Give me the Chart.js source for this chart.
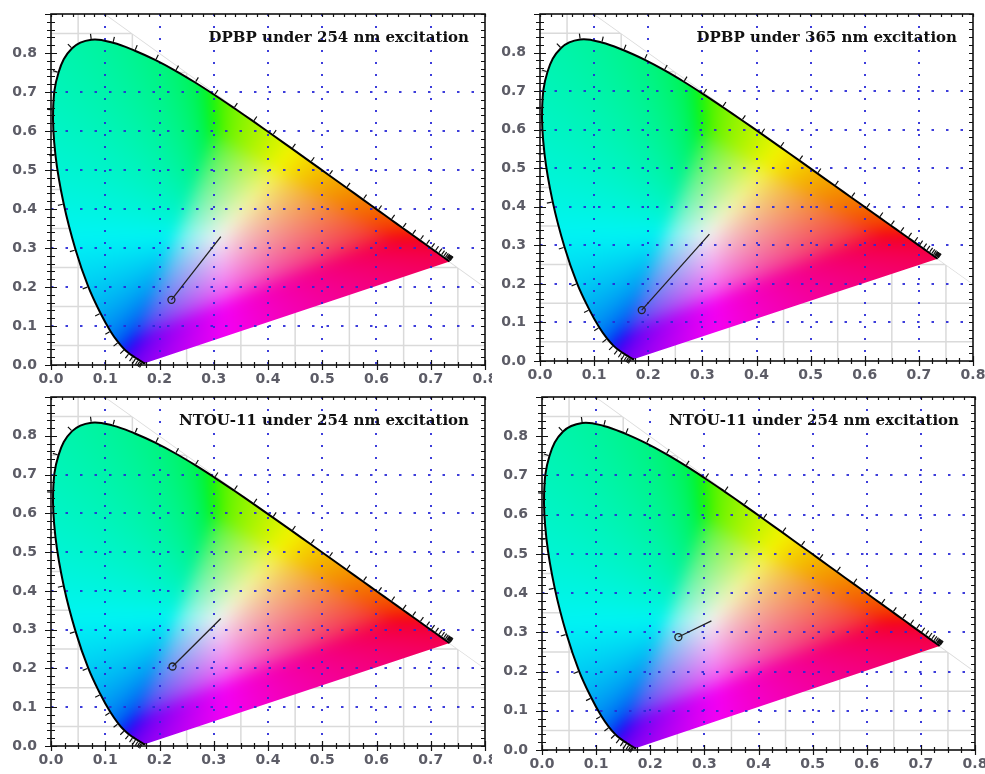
<!DOCTYPE html>
<html>
<head>
<meta charset="utf-8">
<title>CIE 1931 chromaticity diagrams</title>
<script src="https://cdn.jsdelivr.net/npm/chart.js@4.4.0/dist/chart.umd.min.js"></script>
<style>
  html, body { margin: 0; padding: 0; background: #fff; }
  #page { position: relative; width: 985px; height: 774px; overflow: hidden; }
  .panel { position: absolute; }
</style>
</head>
<body>
<div id="page"></div>
<script>
// CIE 1931 2 degree spectral locus, 380-700 nm every 5 nm
const locusNm = [380, 385, 390, 395, 400, 405, 410, 415, 420, 425, 430, 435, 440, 445, 450, 455,
    460, 465, 470, 475, 480, 485, 490, 495, 500, 505, 510, 515, 520, 525, 530, 535, 540, 545,
    550, 555, 560, 565, 570, 575, 580, 585, 590, 595, 600, 605, 610, 615, 620, 625, 630, 635,
    640, 645, 650, 655, 660, 665, 670, 675, 680, 685, 690, 695, 700];
const locusX = [0.1741, 0.1740, 0.1738, 0.1736, 0.1733, 0.1730, 0.1726, 0.1721, 0.1714, 0.1703,
    0.1689, 0.1669, 0.1644, 0.1611, 0.1566, 0.1510, 0.1440, 0.1355, 0.1241, 0.1096, 0.0913,
    0.0687, 0.0454, 0.0235, 0.0082, 0.0039, 0.0139, 0.0389, 0.0743, 0.1142, 0.1547, 0.1929,
    0.2296, 0.2658, 0.3016, 0.3373, 0.3731, 0.4087, 0.4441, 0.4788, 0.5125, 0.5448, 0.5752,
    0.6029, 0.6270, 0.6482, 0.6658, 0.6801, 0.6915, 0.7006, 0.7079, 0.7140, 0.7190, 0.7230,
    0.7260, 0.7283, 0.7300, 0.7311, 0.7320, 0.7327, 0.7334, 0.7340, 0.7344, 0.7346, 0.7347];
const locusY = [0.0050, 0.0050, 0.0049, 0.0049, 0.0048, 0.0048, 0.0048, 0.0048, 0.0051, 0.0058,
    0.0069, 0.0086, 0.0109, 0.0138, 0.0177, 0.0227, 0.0297, 0.0399, 0.0578, 0.0868, 0.1327,
    0.2007, 0.2950, 0.4127, 0.5384, 0.6548, 0.7502, 0.8120, 0.8338, 0.8262, 0.8059, 0.7816,
    0.7543, 0.7243, 0.6923, 0.6589, 0.6245, 0.5896, 0.5547, 0.5202, 0.4866, 0.4544, 0.4242,
    0.3965, 0.3725, 0.3514, 0.3340, 0.3197, 0.3083, 0.2993, 0.2920, 0.2859, 0.2809, 0.2770,
    0.2740, 0.2717, 0.2700, 0.2689, 0.2680, 0.2673, 0.2666, 0.2660, 0.2656, 0.2654, 0.2653];

// one entry per panel
const panelTitles = [
    'DPBP under 254 nm excitation',
    'DPBP under 365 nm excitation',
    'NTOU-11 under 254 nm excitation',
    'NTOU-11 under 254 nm excitation'
];
const sampleX = [0.222, 0.188, 0.224, 0.252];
const sampleY = [0.167, 0.132, 0.205, 0.288];
const whiteX = 0.313;
const whiteY = 0.329;

const xTickLabels = ['0.0', '0.1', '0.2', '0.3', '0.4', '0.5', '0.6', '0.7', '0.8'];
const yTickLabels = ['0.0', '0.1', '0.2', '0.3', '0.4', '0.5', '0.6', '0.7', '0.8'];

// where each panel sits on the page
const panelBoxes = [
    { left: 0,   top: 0,   width: 492, height: 392, yAxisW: 51, xAxisH: 27, padTop: 14, padRight: 7 },
    { left: 490, top: 0,   width: 495, height: 390, yAxisW: 50, xAxisH: 29, padTop: 14, padRight: 12 },
    { left: 0,   top: 384, width: 492, height: 390, yAxisW: 51, xAxisH: 28, padTop: 13, padRight: 7 },
    { left: 490, top: 384, width: 495, height: 390, yAxisW: 52, xAxisH: 24, padTop: 13, padRight: 10 }
];

const gridBlue = 'rgba(40, 40, 215, 0.9)';
const labelGrey = '#5c5c66';

function gammaEncode(c) {
    return c <= 0.0031308 ? 12.92 * c : 1.055 * Math.pow(c, 1 / 2.4) - 0.055;
}

// xy -> XYZ (Y = 1) -> linear sRGB, out-of-gamut colours desaturated toward white
function chromaColor(cx, cy) {
    const yy = Math.max(cy, 0.0005);
    const X = cx / yy, Y = 1, Z = (1 - cx - yy) / yy;
    let r = 3.2406 * X - 1.5372 * Y - 0.4986 * Z;
    let g = -0.9689 * X + 1.8758 * Y + 0.0415 * Z;
    let b = 0.0557 * X - 0.2040 * Y + 1.0570 * Z;
    const lo = Math.min(r, g, b);
    if (lo < 0) { r -= lo; g -= lo; b -= lo; }
    const hi = Math.max(r, g, b) || 1;
    return [r / hi, g / hi, b / hi].map(c => Math.round(244 * gammaEncode(c)));
}

// closed horseshoe: the library's own (curved) locus path, closed by the purple line
function locusPath(chart, ctx) {
    const meta = chart.getDatasetMeta(0);
    meta.dataset.updateControlPoints(chart.chartArea, meta.iAxis);
    ctx.beginPath();
    meta.dataset.path(ctx);
    ctx.closePath();
}

function buildGamutImage(chart) {
    const { chartArea: a, scales: { x, y } } = chart;
    const m = 20;
    const w = Math.ceil(a.width) + 2 * m, h = Math.ceil(a.height) + 2 * m;
    const raw = document.createElement('canvas');
    raw.width = w;
    raw.height = h;
    const rctx = raw.getContext('2d');
    const img = rctx.createImageData(w, h);
    for (let j = 0; j < h; j++) {
        const vy = y.getValueForPixel(a.top - m + j + 0.5);
        for (let i = 0; i < w; i++) {
            const vx = x.getValueForPixel(a.left - m + i + 0.5);
            const c = chromaColor(vx, vy);
            const k = (j * w + i) * 4;
            img.data[k] = c[0];
            img.data[k + 1] = c[1];
            img.data[k + 2] = c[2];
            img.data[k + 3] = 255;
        }
    }
    rctx.putImageData(img, 0, 0);
    // soften the seams at the sRGB gamut edges
    const soft = document.createElement('canvas');
    soft.width = w;
    soft.height = h;
    const sctx = soft.getContext('2d');
    sctx.filter = 'blur(7px)';
    sctx.drawImage(raw, 0, 0);
    return { canvas: soft, margin: m };
}

// faint background grid + coloured gamut, drawn under the dotted grid
const gamutPlugin = {
    id: 'gamut',
    beforeDraw(chart) {
        const { ctx, chartArea: a, scales: { x, y } } = chart;

        ctx.save();
        ctx.beginPath();
        ctx.rect(a.left, a.top, a.width, a.height);
        ctx.clip();
        ctx.beginPath();
        ctx.moveTo(x.getPixelForValue(0), y.getPixelForValue(0));
        ctx.lineTo(x.getPixelForValue(1), y.getPixelForValue(0));
        ctx.lineTo(x.getPixelForValue(0), y.getPixelForValue(1));
        ctx.closePath();
        ctx.clip();
        ctx.strokeStyle = '#dadada';
        ctx.lineWidth = 1.5;
        ctx.beginPath();
        for (let k = 1; k < 20; k += 2) {
            const v = k * 0.05;
            ctx.moveTo(x.getPixelForValue(v), a.top);
            ctx.lineTo(x.getPixelForValue(v), a.bottom);
            ctx.moveTo(a.left, y.getPixelForValue(v));
            ctx.lineTo(a.right, y.getPixelForValue(v));
        }
        ctx.moveTo(x.getPixelForValue(0), y.getPixelForValue(1));
        ctx.lineTo(x.getPixelForValue(1), y.getPixelForValue(0));
        ctx.stroke();
        ctx.restore();

        if (!chart.$gamut) chart.$gamut = buildGamutImage(chart);
        ctx.save();
        locusPath(chart, ctx);
        ctx.clip();
        ctx.drawImage(chart.$gamut.canvas, a.left - chart.$gamut.margin, a.top - chart.$gamut.margin);
        ctx.restore();
    }
};

// wavelength ticks on the locus
const wavelengthTicks = {
    id: 'wavelengthTicks',
    afterDatasetsDraw(chart) {
        const { ctx, scales: { x, y } } = chart;
        const pts = locusNm.map((nm, i) => [x.getPixelForValue(locusX[i]), y.getPixelForValue(locusY[i])]);
        const wx = x.getPixelForValue(whiteX), wy = y.getPixelForValue(whiteY);
        ctx.save();
        ctx.strokeStyle = '#111';
        ctx.lineWidth = 1.2;
        ctx.beginPath();
        locusNm.forEach((nm, i) => {
            if (nm < 430) return;
            let lo = i, hi = i, tx = 0, ty = 0;
            while (Math.hypot(tx, ty) < 4 && (lo > 0 || hi < pts.length - 1)) {
                lo = Math.max(0, lo - 1);
                hi = Math.min(pts.length - 1, hi + 1);
                tx = pts[hi][0] - pts[lo][0];
                ty = pts[hi][1] - pts[lo][1];
            }
            const len = Math.hypot(tx, ty) || 1;
            let nx = -ty / len, ny = tx / len;
            if (nx * (pts[i][0] - wx) + ny * (pts[i][1] - wy) < 0) { nx = -nx; ny = -ny; }
            ctx.moveTo(pts[i][0] + nx, pts[i][1] + ny);
            ctx.lineTo(pts[i][0] + nx * 6, pts[i][1] + ny * 6);
        });
        ctx.stroke();
        ctx.restore();
    }
};

// boxed frame with crossing minor ticks and the panel caption
const framePlugin = {
    id: 'frame',
    afterDraw(chart, args, opts) {
        const { ctx, chartArea: a, scales: { x, y } } = chart;
        ctx.save();
        ctx.strokeStyle = '#111';
        ctx.lineWidth = 1.6;
        ctx.strokeRect(a.left, a.top, a.width, a.height);
        ctx.lineWidth = 1.2;
        ctx.beginPath();
        for (let k = 0; k * 0.025 <= x.max + 1e-9; k++) {
            const px = Math.round(x.getPixelForValue(k * 0.025)) + 0.5;
            const len = k % 4 === 0 ? 5 : 3;
            ctx.moveTo(px, a.bottom - len);
            ctx.lineTo(px, a.bottom + len);
        }
        for (let k = 0; k * 0.02 <= x.max + 1e-9; k++) {
            const px = Math.round(x.getPixelForValue(k * 0.02)) + 0.5;
            ctx.moveTo(px, a.top);
            ctx.lineTo(px, a.top + 3);
        }
        for (let k = 0; k * 0.02 <= y.max + 1e-9; k++) {
            const py = Math.round(y.getPixelForValue(k * 0.02)) + 0.5;
            const len = k % 5 === 0 ? 6 : 4;
            ctx.moveTo(a.left - len, py);
            ctx.lineTo(a.left + len, py);
            ctx.moveTo(a.right - 4, py);
            ctx.lineTo(a.right, py);
        }
        ctx.stroke();

        ctx.fillStyle = '#111';
        ctx.font = 'bold 15px "DejaVu Serif", serif';
        ctx.textAlign = 'right';
        ctx.textBaseline = 'middle';
        ctx.fillText(opts.text, a.right - 16, a.top + 24);
        ctx.restore();
    }
};

function buildConfig(p, box) {
    const sample = { x: sampleX[p], y: sampleY[p] };
    const tickFont = { family: 'DejaVu Sans', size: 14, weight: 'bold' };
    const gridColor = c => (c.tick && c.tick.value > 0.05 && c.tick.value < 0.75) ? gridBlue : 'rgba(0,0,0,0)';
    return {
        type: 'scatter',
        data: {
            datasets: [
                {
                    label: 'spectral locus',
                    data: locusNm.map((nm, i) => ({ x: locusX[i], y: locusY[i] })),
                    showLine: true,
                    tension: 0.4,
                    borderColor: '#000',
                    borderWidth: 2,
                    pointRadius: 0
                },
                {
                    label: 'CIE coordinate',
                    data: [sample, { x: whiteX, y: whiteY }],
                    showLine: true,
                    borderColor: '#222',
                    borderWidth: 1.3,
                    pointRadius: [3.5, 0],
                    pointBorderColor: '#222',
                    pointBorderWidth: 1.3,
                    pointBackgroundColor: 'rgba(0,0,0,0)'
                }
            ]
        },
        options: {
            responsive: false,
            animation: false,
            devicePixelRatio: 1,
            events: [],
            layout: { padding: { top: box.padTop, right: box.padRight, left: 0, bottom: 0 } },
            plugins: {
                legend: { display: false },
                tooltip: { enabled: false },
                frame: { text: panelTitles[p] }
            },
            scales: {
                x: {
                    type: 'linear',
                    min: 0,
                    max: 0.8,
                    afterFit(s) { s.height = box.xAxisH; s.paddingLeft = 0; s.paddingRight = 0; },
                    ticks: {
                        stepSize: 0.1,
                        padding: 6,
                        autoSkip: false,
                        maxRotation: 0,
                        color: labelGrey,
                        font: tickFont,
                        callback: v => xTickLabels[Math.round(v * 10)] ?? ''
                    },
                    grid: { drawTicks: false, lineWidth: 2, color: gridColor },
                    border: { display: false, dash: [2, 10] }
                },
                y: {
                    type: 'linear',
                    min: 0,
                    max: 0.9,
                    afterFit(s) { s.width = box.yAxisW; s.paddingTop = 0; s.paddingBottom = 0; },
                    ticks: {
                        stepSize: 0.1,
                        padding: 14,
                        autoSkip: false,
                        color: labelGrey,
                        font: tickFont,
                        callback: v => yTickLabels[Math.round(v * 10)] ?? ''
                    },
                    grid: { drawTicks: false, lineWidth: 2, color: gridColor },
                    border: { display: false, dash: [2.5, 12] }
                }
            }
        },
        plugins: [gamutPlugin, wavelengthTicks, framePlugin]
    };
}

const page = document.getElementById('page');
panelBoxes.forEach((box, p) => {
    const canvas = document.createElement('canvas');
    canvas.className = 'panel';
    canvas.width = box.width;
    canvas.height = box.height;
    canvas.style.left = box.left + 'px';
    canvas.style.top = box.top + 'px';
    canvas.style.width = box.width + 'px';
    canvas.style.height = box.height + 'px';
    page.appendChild(canvas);
    new Chart(canvas, buildConfig(p, box));
});
</script>
</body>
</html>
